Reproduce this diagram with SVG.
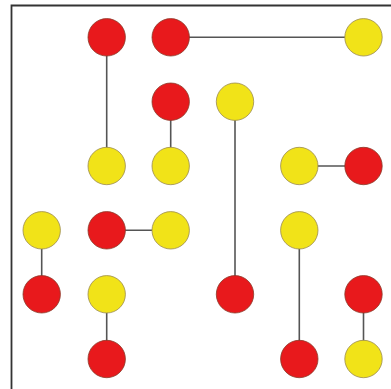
<svg xmlns="http://www.w3.org/2000/svg" width="391" height="389" viewBox="0 0 391 389">
<style>
.r{fill:#e8191c;stroke:#8a3a2a;stroke-width:0.8}
.y{fill:#f1e318;stroke:#9a8a50;stroke-width:0.8}
.e{stroke:#555;stroke-width:1.6;fill:none}
.f{stroke:#333;stroke-width:1.8;fill:none}
</style>
<rect width="391" height="389" fill="#fff"/>
<path class="f" d="M11.5 389 V5.5 H391"/>
<g id="connectors">
<line class="e" x1="106.7" y1="37.3" x2="106.7" y2="166"/>
<line class="e" x1="170.7" y1="37.3" x2="363.5" y2="37.3"/>
<line class="e" x1="170.7" y1="101.7" x2="170.7" y2="166"/>
<line class="e" x1="235" y1="101.7" x2="235" y2="294.3"/>
<line class="e" x1="299.3" y1="166" x2="363.5" y2="166"/>
<line class="e" x1="41.7" y1="230.3" x2="41.7" y2="294.3"/>
<line class="e" x1="106.7" y1="230.3" x2="170.7" y2="230.3"/>
<line class="e" x1="299.3" y1="230.3" x2="299.3" y2="359"/>
<line class="e" x1="106.7" y1="294.3" x2="106.7" y2="359"/>
<line class="e" x1="363.5" y1="294.3" x2="363.5" y2="359"/>
</g>
<g id="n1"><circle class="r" cx="106.7" cy="37.3" r="18.7"/></g>
<g id="n2"><circle class="r" cx="170.7" cy="37.3" r="18.7"/></g>
<g id="n3"><circle class="y" cx="363.5" cy="37.3" r="18.7"/></g>
<g id="n4"><circle class="r" cx="170.7" cy="101.7" r="18.7"/></g>
<g id="n5"><circle class="y" cx="235" cy="101.7" r="18.7"/></g>
<g id="n6"><circle class="y" cx="106.7" cy="166" r="18.7"/></g>
<g id="n7"><circle class="y" cx="170.7" cy="166" r="18.7"/></g>
<g id="n8"><circle class="y" cx="299.3" cy="166" r="18.7"/></g>
<g id="n9"><circle class="r" cx="363.5" cy="166" r="18.7"/></g>
<g id="n10"><circle class="y" cx="41.7" cy="230.3" r="18.7"/></g>
<g id="n11"><circle class="r" cx="106.7" cy="230.3" r="18.7"/></g>
<g id="n12"><circle class="y" cx="170.7" cy="230.3" r="18.7"/></g>
<g id="n13"><circle class="y" cx="299.3" cy="230.3" r="18.7"/></g>
<g id="n14"><circle class="r" cx="41.7" cy="294.3" r="18.7"/></g>
<g id="n15"><circle class="y" cx="106.7" cy="294.3" r="18.7"/></g>
<g id="n16"><circle class="r" cx="235" cy="294.3" r="18.7"/></g>
<g id="n17"><circle class="r" cx="363.5" cy="294.3" r="18.7"/></g>
<g id="n18"><circle class="r" cx="106.7" cy="359" r="18.7"/></g>
<g id="n19"><circle class="r" cx="299.3" cy="359" r="18.7"/></g>
<g id="n20"><circle class="y" cx="363.5" cy="359" r="18.7"/></g>
</svg>
